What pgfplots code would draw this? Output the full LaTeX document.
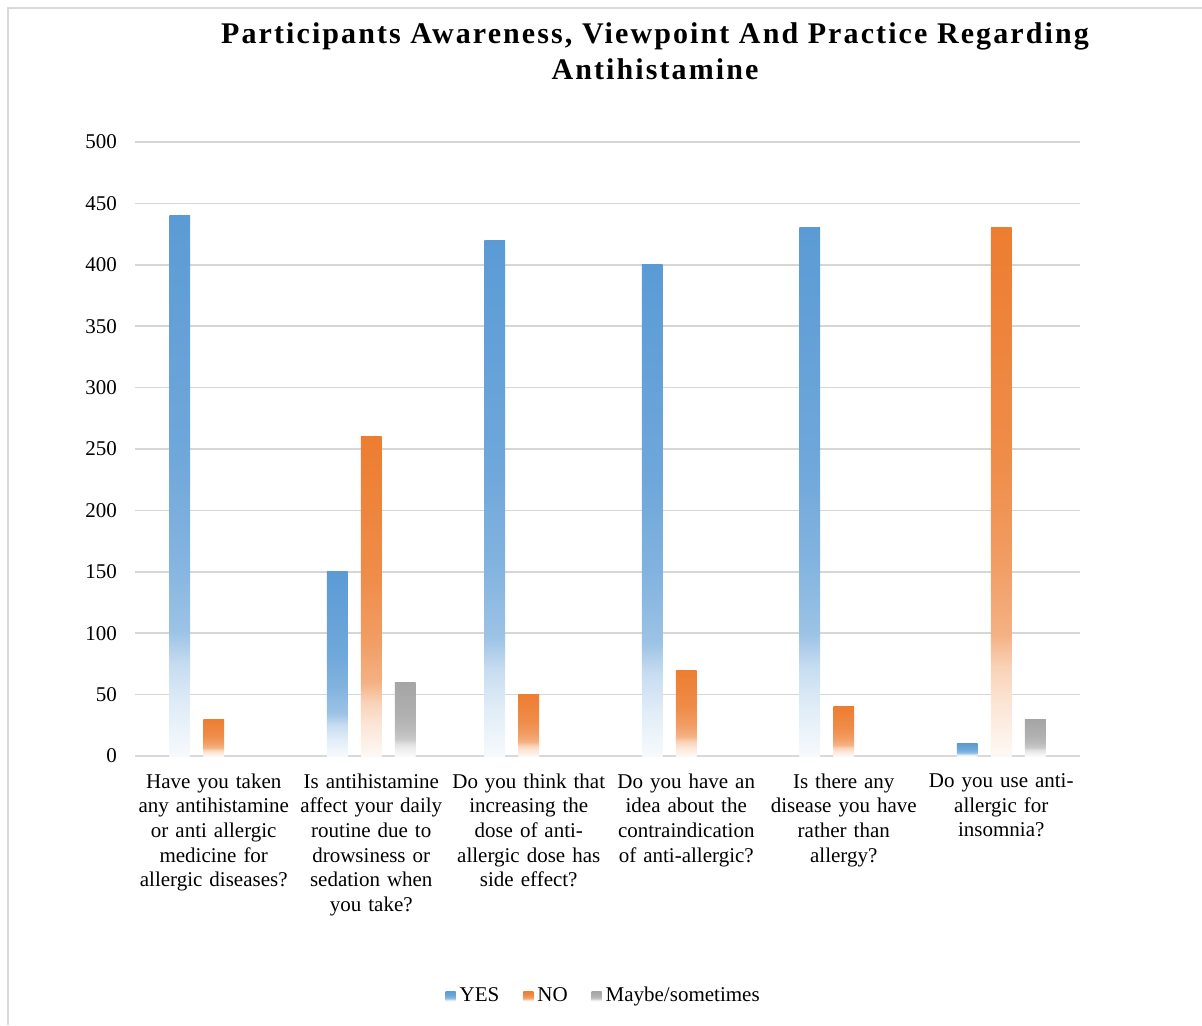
\documentclass[border=0pt]{standalone}
\usepackage{pgfplots}
\pgfplotsset{compat=1.18}
\usepackage{fontspec}
\setmainfont{Liberation Serif}
\definecolor{cY}{HTML}{5B9BD5}
\definecolor{cN}{HTML}{ED7D31}
\definecolor{cM}{HTML}{A5A5A5}
\definecolor{framec}{HTML}{D9D9D9}
\definecolor{gridc}{HTML}{D6D6D6}
\pgfdeclareverticalshading{shY}{100bp}{color(0bp)=(cY!5!white); color(25bp)=(cY!5!white); color(30bp)=(cY!20!white); color(33.5bp)=(cY!35!white); color(36.5bp)=(cY!60!white); color(43bp)=(cY!75!white); color(53bp)=(cY!88!white); color(75bp)=(cY); color(100bp)=(cY)}
\pgfdeclareverticalshading{shN}{100bp}{color(0bp)=(cN!5!white); color(25bp)=(cN!5!white); color(30bp)=(cN!20!white); color(33.5bp)=(cN!35!white); color(36.5bp)=(cN!60!white); color(43bp)=(cN!75!white); color(53bp)=(cN!88!white); color(75bp)=(cN); color(100bp)=(cN)}
\pgfdeclareverticalshading{shM}{100bp}{color(0bp)=(cM!5!white); color(25bp)=(cM!5!white); color(30bp)=(cM!20!white); color(33.5bp)=(cM!35!white); color(36.5bp)=(cM!60!white); color(43bp)=(cM!75!white); color(53bp)=(cM!88!white); color(75bp)=(cM); color(100bp)=(cM)}
\pgfplotsset{
  barY/.style={draw=none, shade, shading=shY, bar shift=-0.216},
  barN/.style={draw=none, shade, shading=shN, bar shift=0},
  barM/.style={draw=none, shade, shading=shM, bar shift=0.216},
}
\begin{document}
\begin{tikzpicture}[x=1pt,y=1pt]
\useasboundingbox (0,0) rectangle (601,512.5);
\draw[framec, line width=1pt] (4,0) -- (4,508.5) -- (601,508.5);
\node[font=\fontsize{15}{18}\selectfont\bfseries\addfontfeature{LetterSpace=7}, align=center] at (327.5,487) {Participants Awareness, Viewpoint And Practice Regarding\\Antihistamine};
\begin{axis}[
  at={(67.5pt,134.5pt)}, anchor=south west,
  scale only axis, width=472.5pt, height=307pt,
  ymin=0, ymax=500, ytick={0,50,...,500},
  xmin=-0.5, xmax=5.5, xtick={0,1,2,3,4,5},
  xticklabels={{Have you taken\\any antihistamine\\or anti allergic\\medicine for\\allergic diseases?},
    {Is antihistamine\\affect your daily\\routine due to\\drowsiness or\\sedation when\\you take?},
    {Do you think that\\increasing the\\dose of anti-\\allergic dose has\\side effect?},
    {Do you have an\\idea about the\\contraindication\\of anti-allergic?},
    {Is there any\\disease you have\\rather than\\allergy?},
    {Do you use anti-\\allergic for\\insomnia?}},
  ybar, bar width=0.133,
  separate axis lines,
  axis x line*=bottom, axis y line*=left,
  y axis line style={draw=none},
  x axis line style={framec, line width=1pt},
  tick style={draw=none},
  ymajorgrids, grid style={gridc, line width=0.75pt},
  /pgf/number format/assume math mode=true,
  tick label style={font=\fontsize{10.5}{12.35}\selectfont},
  yticklabel style={xshift=-5.5pt},
  xticklabel style={text width=84pt, align=center, yshift=-1pt},
  legend style={at={(0.497,-0.391)}, anchor=center, draw=none, legend columns=3,
    font=\fontsize{10.5}{12}\selectfont,
    /tikz/every even column/.append style={column sep=10pt}},
  legend image code/.code={\path[#1] (0pt,-2.5pt) rectangle (5pt,2.5pt);},
]
% first bar of each series carries the legend entry
\addplot[barY] coordinates {(0,440)};
\addplot[barN] coordinates {(0,30)};
\addplot[barM] coordinates {(1,60)};
\legend{YES,NO,Maybe/sometimes}
% YES
\addplot[barY, forget plot] coordinates {(1,150)};
\addplot[barY, forget plot] coordinates {(2,420)};
\addplot[barY, forget plot] coordinates {(3,400)};
\addplot[barY, forget plot] coordinates {(4,430)};
\addplot[barY, forget plot] coordinates {(5,10)};
% NO
\addplot[barN, forget plot] coordinates {(1,260)};
\addplot[barN, forget plot] coordinates {(2,50)};
\addplot[barN, forget plot] coordinates {(3,70)};
\addplot[barN, forget plot] coordinates {(4,40)};
\addplot[barN, forget plot] coordinates {(5,430)};
% Maybe/sometimes
\addplot[barM, forget plot] coordinates {(5,30)};
\end{axis}
\end{tikzpicture}
\end{document}
